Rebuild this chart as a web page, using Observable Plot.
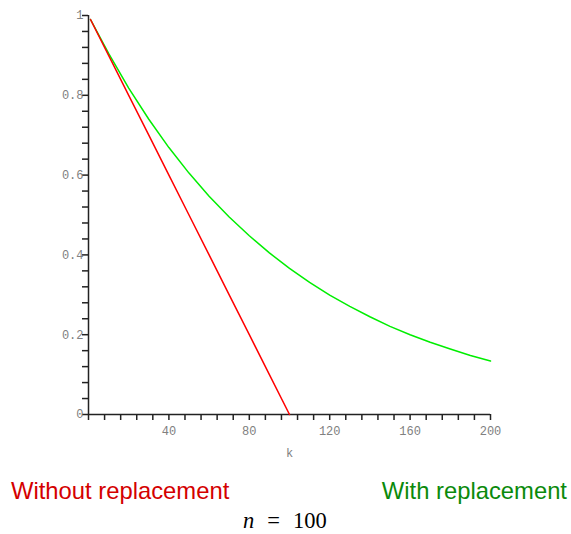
<!DOCTYPE html>
<html>
<head>
<meta charset="utf-8">
<script src="https://cdn.jsdelivr.net/npm/d3@7"></script>
<script src="https://cdn.jsdelivr.net/npm/@observablehq/plot@0.6"></script>
<style>
  html, body { margin: 0; padding: 0; background: white; overflow: hidden; }
  #wrap { width: 571px; position: relative; }
  #wrap svg { display: block; }
  #legend { position: relative; width: 571px; height: 64px; }
  .lg { position: absolute; font-family: "Liberation Sans", Arial, sans-serif; font-size: 23.8px; line-height: 24px; white-space: nowrap; }
  #cap { position: absolute; font-family: "Liberation Serif", "Times New Roman", serif; font-size: 22.5px; line-height: 18px; white-space: nowrap; }
</style>
</head>
<body>
<div id="wrap"></div>
<script>
// Without replacement (red)
const kWithout = [1, 10, 20, 30, 40, 50, 60, 70, 80, 90, 100];
const pWithout = [0.99, 0.90, 0.80, 0.70, 0.60, 0.50, 0.40, 0.30, 0.20, 0.10, 0.0];
// With replacement (green)
const kWith = [1, 10, 20, 30, 40, 50, 60, 70, 80, 90, 100, 110, 120, 130, 140, 150, 160, 170, 180, 190, 200];
const pWith = [0.99, 0.905, 0.818, 0.74, 0.669, 0.605, 0.547, 0.495, 0.448, 0.405, 0.366, 0.331, 0.299, 0.271, 0.245, 0.221, 0.200, 0.181, 0.164, 0.148, 0.134];
// Tick labels
const xTickLabels = [40, 80, 120, 160, 200];
const yTickLabels = [0, 0.2, 0.4, 0.6, 0.8, 1];
const xMinorTicks = d3.range(0, 201, 8);
const yMinorTicks = d3.range(0, 26).map(i => i * 0.04);
const xLabel = "k";
const legendLabels = ["Without replacement", "With replacement"];

const redData = kWithout.map((k, i) => ({k, p: pWithout[i]}));
const greenData = kWith.map((k, i) => ({k, p: pWith[i]}));

const axisColor = "#222";
const labelColor = "#808080";

const chart = Plot.plot({
  width: 571,
  height: 470,
  marginLeft: 88,
  marginRight: 81,
  marginTop: 15,
  marginBottom: 56,
  x: {domain: [0, 200]},
  y: {domain: [0, 1]},
  style: {fontFamily: "'Liberation Mono', 'DejaVu Sans Mono', monospace", fontSize: "12px", color: labelColor, background: "white"},
  marks: [
    Plot.axisX({ticks: xMinorTicks, tickSize: 6, tickFormat: () => "", stroke: axisColor, strokeWidth: 1.5, label: null}),
    Plot.axisX({ticks: xTickLabels, tickSize: 0, tickPadding: 12, fill: labelColor, fontSize: 12, label: null}),
    Plot.axisY({ticks: yMinorTicks, tickSize: 6, tickFormat: () => "", stroke: axisColor, strokeWidth: 1.5, label: null}),
    Plot.axisY({ticks: yTickLabels, tickSize: 0, tickPadding: 5, fill: labelColor, fontSize: 12, label: null,
      tickFormat: d => (d === 0 || d === 1) ? String(d) : d.toFixed(1)}),
    Plot.ruleY([0], {stroke: axisColor, strokeWidth: 1.5}),
    Plot.ruleX([0], {stroke: axisColor, strokeWidth: 1.5}),
    Plot.text([xLabel], {frameAnchor: "bottom", dy: 39, lineAnchor: "middle", fill: labelColor, fontSize: 12}),
    Plot.line(greenData, {x: "k", y: "p", stroke: "#00ee00", strokeWidth: 1.5}),
    Plot.line(redData, {x: "k", y: "p", stroke: "#ff0000", strokeWidth: 1.5})
  ]
});
const wrap = document.getElementById("wrap");
wrap.appendChild(chart);

const legend = document.createElement("div");
legend.id = "legend";
legend.innerHTML = `
  <span class="lg" style="left:11px; top:9px; color:#d40000;">${legendLabels[0]}</span>
  <span class="lg" style="right:4px; top:9px; color:#0b8a0b;">${legendLabels[1]}</span>
  <span id="cap" style="left:243px; top:42px;"><i>n</i><span style="margin:0 13px">=</span>100</span>
`;
wrap.appendChild(legend);
</script>
</body>
</html>
